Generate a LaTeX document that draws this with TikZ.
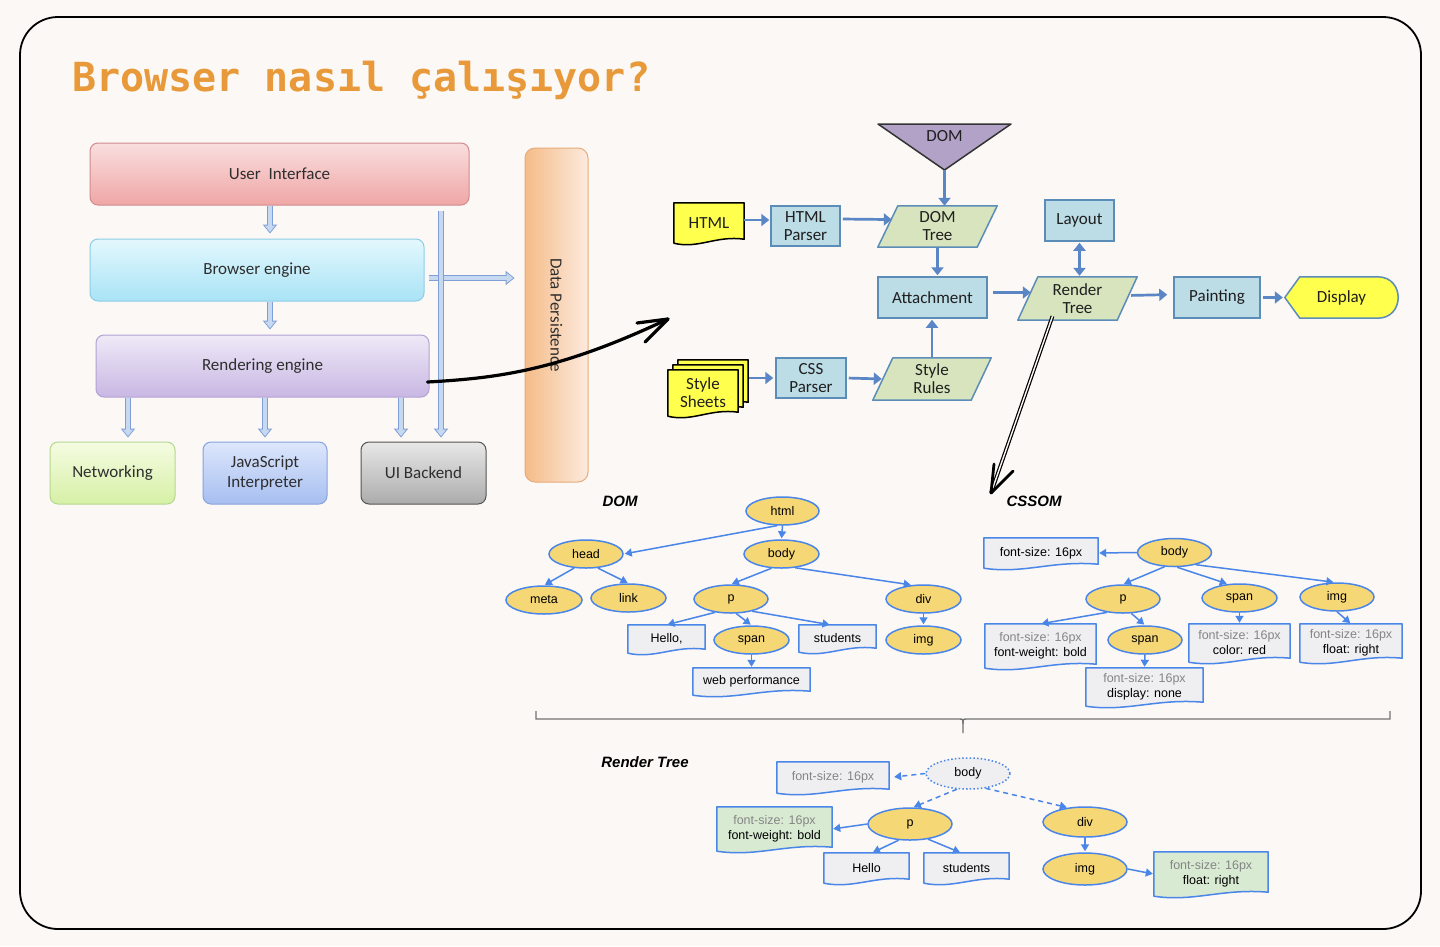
\documentclass[tikz,border=0pt]{standalone}
\usepackage{fontspec}
\setmainfont{Liberation Sans}
\newfontfamily\calfont{Carlito}
\newfontfamily\titlefont{DejaVu Sans Mono}
\usetikzlibrary{arrows.meta,calc,shapes.geometric}
\pgfdeclarelayer{canvas}
\pgfdeclarelayer{shapes}
\pgfsetlayers{canvas,shapes,main}

\definecolor{bgc}{HTML}{FBF8F5}
\definecolor{titlec}{HTML}{E8993A}
\definecolor{arrfill}{HTML}{C6D9F1}
\definecolor{arrdraw}{HTML}{7F9FD6}
\definecolor{flowblue}{HTML}{BCDCE6}
\definecolor{flowedge}{HTML}{5B8DB8}
\definecolor{flowgreen}{HTML}{D7E4BD}
\definecolor{flowarrow}{HTML}{5B86C5}
\definecolor{docyellow}{HTML}{FFFF4D}
\definecolor{domviolet}{HTML}{B3A2C7}
\definecolor{gblue}{HTML}{4A86E8}
\definecolor{gyellow}{HTML}{F6D775}
\definecolor{ggray}{HTML}{EFEFF1}
\definecolor{ggreen}{HTML}{D9EAD3}
\definecolor{gtext}{HTML}{858585}
\definecolor{uitop}{HTML}{F9DEDE}
\definecolor{uibot}{HTML}{F0A6A6}
\definecolor{uiedge}{HTML}{D08C8C}
\definecolor{betop}{HTML}{E3F8FD}
\definecolor{bebot}{HTML}{A9E3F6}
\definecolor{beedge}{HTML}{8CCDE6}
\definecolor{retop}{HTML}{EFE9F7}
\definecolor{rebot}{HTML}{C8B7E3}
\definecolor{reedge}{HTML}{B3A2D3}
\definecolor{nettop}{HTML}{F5FCE2}
\definecolor{netbot}{HTML}{D6F0A6}
\definecolor{netedge}{HTML}{B5D88F}
\definecolor{jstop}{HTML}{DDE7FC}
\definecolor{jsbot}{HTML}{A6BEF0}
\definecolor{jsedge}{HTML}{86A4DD}
\definecolor{uibtop}{HTML}{E8E8E8}
\definecolor{uibbot}{HTML}{ABABAB}
\definecolor{uibedge}{HTML}{555555}
\definecolor{dpleft}{HTML}{F5BC88}
\definecolor{dpright}{HTML}{FCEADE}
\definecolor{dpedge}{HTML}{E6AC7A}

\newcommand\docshape[3]{%
\begin{pgfonlayer}{shapes}
\path[fill=#1, draw=#2, line width=1.5pt, line join=round] (#3.north west) -- (#3.north east) -- ($(#3.south east)+(0,-4)$) .. controls ($(#3.south east)!0.4!(#3.south west)+(0,-8)$) and ($(#3.south east)!0.65!(#3.south west)+(0,6)$) .. (#3.south west) -- cycle;
\end{pgfonlayer}}
\newcommand\paragram[1]{%
\begin{pgfonlayer}{shapes}
\path[fill=flowgreen, draw=flowedge, line width=1.5pt, line join=round] ($(#1.south west)+(-10,0)$) -- ($(#1.north west)+(10,0)$) -- ($(#1.north east)+(10,0)$) -- ($(#1.south east)+(-10,0)$) -- cycle;
\end{pgfonlayer}}

\tikzset{
  lbox/.style={rounded corners=8pt, minimum height=62pt, inner sep=0pt, line width=1pt,
    font=\calfont\fontsize{17}{20}\selectfont, text=black!82, align=center},
  blk/.style={draw=arrdraw, line width=6.6pt, -{Triangle[length=9pt,width=14pt]},
    postaction={draw=arrfill, line width=4pt, -{Triangle[length=6.6pt,width=10pt]}, shorten >=1.4pt, shorten <=0.7pt}},
  fbox/.style={draw=flowedge, fill=flowblue, line width=1.5pt, inner sep=0pt, minimum height=41pt,
    font=\calfont\fontsize{17}{18}\selectfont, align=center, text=black!88},
  ftext/.style={inner sep=0pt, font=\calfont\fontsize{17}{18}\selectfont, align=center, text=black!88},
  farr/.style={draw=flowarrow, line width=2.7pt, -{Triangle[length=8pt,width=12pt]}},
  gnode/.style={ellipse, draw=gblue, fill=gyellow, line width=1.5pt, inner sep=0pt,
    minimum width=74pt, minimum height=28pt, font=\fontsize{12.5}{14}\selectfont},
  gdoc/.style={inner sep=0pt, font=\fontsize{12.5}{15}\selectfont, align=center},
  garr/.style={draw=gblue, line width=1.5pt, -{Triangle[length=7pt,width=8pt]}, shorten >=1pt},
  gdash/.style={garr, dash pattern=on 5pt off 4pt},
  glabel/.style={inner sep=0pt, font=\bfseries\itshape\fontsize{15}{18}\selectfont},
  hand/.style={draw=black, line width=3.2pt, line cap=round, line join=round},
}

\begin{document}
\begin{tikzpicture}[x=1pt,y=-1pt]
\useasboundingbox (0,0) rectangle (1440,946);
\begin{pgfonlayer}{canvas}
\fill[bgc] (0,0) rectangle (1440,946);
\draw[line width=1.8pt, rounded corners=38pt] (20,17) rectangle (1421,929);
\end{pgfonlayer}

% Title
\node[anchor=base west, inner sep=0pt, font=\titlefont\bfseries\fontsize{40}{48}\selectfont, text=titlec] (title) at (72,91) {Browser nasıl çalışıyor?};

% ---------- Left: browser architecture ----------
\node[lbox, top color=uitop, bottom color=uibot, draw=uiedge, minimum width=379pt] (ui) at (279.5,174) {User\ \ Interface};
\node[lbox, top color=betop, bottom color=bebot, draw=beedge, minimum width=334pt] (be) at (257,270) {Browser engine};
\node[lbox, top color=retop, bottom color=rebot, draw=reedge, minimum width=333pt] (re) at (262.5,366) {Rendering engine};
\node[lbox, top color=nettop, bottom color=netbot, draw=netedge, minimum width=125pt] (net) at (112.5,473) {Networking};
\node[lbox, top color=jstop, bottom color=jsbot, draw=jsedge, minimum width=124pt] (js) at (265,473) {JavaScript\\Interpreter};
\node[lbox, top color=uibtop, bottom color=uibbot, draw=uibedge, minimum width=125pt] (uib) at (423.5,473) {UI Backend};
\node[lbox, rounded corners=10pt, left color=dpleft, right color=dpright, draw=dpedge, minimum width=63pt, minimum height=334pt] (dp) at (556.5,315) {};
\node[inner sep=0pt, rotate=-90, font=\calfont\fontsize{17}{20}\selectfont, text=black!82] (dptext) at (dp.center) {Data Persistence};

\coordinate (c128) at (128,0);
\coordinate (c265) at (265,0);
\coordinate (c270) at (270,0);
\coordinate (c401) at (401,0);
\coordinate (c441) at (441,0);
\coordinate (c278) at (0,278);

\draw[blk] (ui.south -| c270) -- ($(be.north -| c270)+(0,-5)$);
\draw[blk] (be.south -| c270) -- ($(re.north -| c270)+(0,-5)$);
\draw[blk] (re.south -| c128) -- ($(net.north -| c128)+(0,-4)$);
\draw[blk] (re.south -| c265) -- ($(js.north -| c265)+(0,-4)$);
\draw[blk] (re.south -| c401) -- ($(uib.north -| c401)+(0,-4)$);
\draw[blk] ($(be.east |- c278)+(4,0)$) -- ($(dp.west |- c278)+(-10,0)$);
\draw[blk] ($(ui.south -| c441)+(0,5)$) -- ($(uib.north -| c441)+(0,-4)$);

% hand-drawn arrow to the flow
\coordinate (hstart) at ($(re.east)+(-2,16)$);
\coordinate (htip) at (668,319);
\coordinate (hb1) at (637,323);
\coordinate (hb2) at (645,342);
\draw[hand] (hstart) .. controls (500,378) and (560,370) .. (htip);
\draw[hand] (hb1) -- (htip) -- (hb2);

% ---------- Top right: rendering flow ----------
\coordinate (domtl) at (878,124);
\coordinate (domtr) at (1011,124);
\coordinate (domtip) at (944.5,170);
\begin{pgfonlayer}{shapes}
\path[fill=domviolet, draw=black!80, line width=1.5pt, line join=round] (domtl) -- (domtr) -- (domtip) -- cycle;
\end{pgfonlayer}
\node[ftext] (dom) at (944.5,136) {DOM};

\node[ftext, minimum width=70pt, minimum height=40pt] (htmldoc) at (709,223) {HTML};
\docshape{docyellow}{black}{htmldoc}
\node[fbox, minimum width=69pt, minimum height=40pt] (hp) at (805.5,226) {HTML\\Parser};
\node[ftext, minimum width=99pt, minimum height=41pt] (dt) at (937.5,226.5) {DOM\\Tree};
\paragram{dt}
\node[fbox, minimum width=69pt] (layout) at (1079.5,220.5) {Layout};
\node[fbox, minimum width=109pt] (att) at (932.5,297.5) {Attachment};
\node[ftext, minimum width=99pt, minimum height=43pt] (rt) at (1077.5,298.5) {Render\\Tree};
\paragram{rt}
\node[fbox, minimum width=86pt] (paint) at (1217,297.5) {Painting};
\node[ftext, minimum width=113pt, minimum height=41pt] (display) at (1341.5,297.5) {Display};
\begin{pgfonlayer}{shapes}
\path[fill=docyellow, draw=flowedge, line width=1.5pt, line join=round] (display.west) -- ($(display.north west)+(15,0)$) -- ($(display.north east)+(-20.5,0)$) .. controls ($(display.north east)+(6.8,0)$) and ($(display.south east)+(6.8,0)$) .. ($(display.south east)+(-20.5,0)$) -- ($(display.south west)+(15,0)$) -- cycle;
\end{pgfonlayer}

\node[ftext, minimum width=70pt, minimum height=46pt] (ss3) at (713,383) {};
\docshape{docyellow}{black}{ss3}
\node[ftext, minimum width=70pt, minimum height=46pt] (ss2) at (708,388) {};
\docshape{docyellow}{black}{ss2}
\node[ftext, minimum width=70pt, minimum height=46pt] (ss) at (703,393) {Style\\Sheets};
\docshape{docyellow}{black}{ss}
\node[fbox, minimum width=70pt, minimum height=40pt] (cssp) at (811,378) {CSS\\Parser};
\node[ftext, minimum width=98pt, minimum height=42pt] (sr) at (932,379) {Style\\Rules};
\paragram{sr}

\draw[farr, shorten >=1pt] ($(htmldoc.east)+(0,-3)$) -- ($(hp.west)+(0,-6)$);
\draw[farr, shorten <=2pt, shorten >=-4pt] ($(hp.east)+(0,-7)$) -- ($(dt.west)+(0,-7)$);
\draw[farr] (domtip) -- (domtip |- dt.north);
\draw[farr, shorten >=1pt] (dt.south) -- (att.north -| dt.south);
\draw[farr, shorten <=1pt, shorten >=2pt] (cssp.west -| ss3.east) -- (cssp.west);
\draw[farr, shorten <=2pt, shorten >=1pt] (cssp.east) -- (sr.west);
\draw[farr, shorten <=1pt, shorten >=1pt] (sr.north) -- (att.south -| sr.north);
\draw[farr, shorten <=5pt, shorten >=-3pt] ($(att.east)+(0,-5)$) -- ($(rt.west)+(0,-6)$);
\draw[draw=flowarrow, line width=2.7pt, {Triangle[length=8pt,width=12pt]}-{Triangle[length=8pt,width=12pt]}, shorten <=1pt, shorten >=1pt] (layout.south) -- (layout.south |- rt.north);
\draw[farr, shorten <=4pt, shorten >=6pt] ($(rt.east)+(0,-3)$) -- ($(paint.west)+(0,-3)$);
\draw[farr, shorten <=2pt, shorten >=2pt] (paint.east) -- (display.west);

% double-line hand arrow to CSSOM
\coordinate (dstart) at ($(rt.south)+(-25,-4)$);
\coordinate (dtip) at (991,493);
\coordinate (db1) at (994,464);
\coordinate (db2) at (1013,471);
\draw[line width=1.2pt, double=bgc, double distance=1.4pt] (dstart) -- (dtip);
\draw[hand, line width=2.8pt] (db1) -- (dtip) -- (db2);

% ---------- DOM tree ----------
\node[glabel] (domlbl) at (620,501) {DOM};
\node[gnode, minimum width=73pt] (html) at (782.5,511) {html};
\node[gnode] (head) at (586,554) {head};
\node[gnode, minimum width=75pt] (body) at (781.5,554) {body};
\node[gnode, minimum width=76pt] (meta) at (544,600) {meta};
\node[gnode, minimum width=75pt] (link) at (628.5,598) {link};
\node[gnode] (p) at (731,599) {p};
\node[gnode, minimum width=75pt] (div) at (923.5,599) {div};
\node[gnode, minimum width=75pt] (span) at (751.5,640) {span};
\node[gnode, minimum width=75pt] (img) at (923.5,640) {img};
\node[gdoc, minimum width=77pt, minimum height=28pt] (hello) at (666.5,639) {Hello,};
\docshape{ggray}{gblue}{hello}
\node[gdoc, minimum width=77pt, minimum height=27pt] (students) at (837.5,638.5) {students};
\docshape{ggray}{gblue}{students}
\node[gdoc, minimum width=117pt, minimum height=27pt] (webperf) at (751.5,681.5) {web performance};
\docshape{ggray}{gblue}{webperf}

\draw[garr] (html.250) -- (head.east);
\draw[garr] (html.south) -- (body.north);
\draw[garr] (head.230) -- (meta.north);
\draw[garr] (head.310) -- (link.north);
\draw[garr] (body.235) -- (p.north);
\draw[garr] (body.315) -- (div.130);
\draw[garr] (p.220) -- (hello.north);
\draw[garr] (p.290) -- (span.north);
\draw[garr] (p.330) -- ($(students.north)+(-7,0)$);
\draw[garr] (div.south) -- (img.north);
\draw[garr] (span.south) -- (webperf.north);

% ---------- CSSOM ----------
\node[glabel] (cssomlbl) at (1034,501) {CSSOM};
\node[gnode] (cbody) at (1174.5,552.5) {body};
\node[gdoc, minimum width=114pt, minimum height=30pt] (cfs) at (1041,553) {font-size: 16px};
\docshape{ggray}{gblue}{cfs}
\node[gnode] (cp) at (1123,599) {p};
\node[gnode, minimum width=75pt] (cspan) at (1239.5,598) {span};
\node[gnode] (cimg) at (1337,597) {img};
\node[gnode] (cspan2) at (1145,640) {span};
\node[gdoc, minimum width=111pt, minimum height=44pt] (cfw) at (1040.5,646) {\textcolor{gtext}{font-size: 16px}\\font-weight: bold};
\docshape{ggray}{gblue}{cfw}
\node[gdoc, minimum width=101pt, minimum height=38pt] (ccr) at (1239.5,643) {\textcolor{gtext}{font-size: 16px}\\color: red};
\docshape{ggray}{gblue}{ccr}
\node[gdoc, minimum width=102pt, minimum height=38pt] (cfr) at (1351,643) {\textcolor{gtext}{font-size: 16px}\\float: right};
\docshape{ggray}{gblue}{cfr}
\node[gdoc, minimum width=117pt, minimum height=38pt] (cdn) at (1144.5,687) {\textcolor{gtext}{font-size: 16px}\\display: none};
\docshape{ggray}{gblue}{cdn}

\draw[garr] (cbody.west) -- (cfs.east);
\draw[garr] (cbody.235) -- (cp.north);
\draw[garr] (cbody.280) -- (cspan.130);
\draw[garr] (cbody.330) -- (cimg.100);
\draw[garr] (cp.220) -- (cfw.north);
\draw[garr] (cp.300) -- (cspan2.north);
\draw[garr] (cspan.south) -- (ccr.north);
\draw[garr] (cimg.south) -- (cfr.north);
\draw[garr] (cspan2.south) -- (cdn.north);

% ---------- bracket ----------
\coordinate (brl) at (536,711);
\coordinate (brr) at (1390,711);
\coordinate (brm) at (963,733);
\draw[draw=black!55, line width=1.4pt] (brl) -- (536,719) -- (959,719) .. controls (963,719) .. (963,724) -- (brm);
\draw[draw=black!55, line width=1.4pt] (brr) -- (1390,719) -- (967,719) .. controls (963,719) .. (963,724);

% ---------- Render tree ----------
\node[glabel] (rtlbl) at (645,762) {Render Tree};
\node[gnode, fill=ggray, dash pattern=on 1.5pt off 2.2pt, minimum width=84pt, minimum height=31pt] (rbody) at (968,773.5) {body};
\node[gdoc, minimum width=112pt, minimum height=31pt] (rfs) at (833,777.5) {\textcolor{gtext}{font-size: 16px}};
\docshape{ggray}{gblue}{rfs}
\node[gnode, minimum width=84pt, minimum height=32pt] (rp) at (910,824) {p};
\node[gnode, minimum width=84pt, minimum height=30pt] (rdiv) at (1085,822) {div};
\node[gdoc, minimum width=115pt, minimum height=44pt] (rfw) at (774.5,829) {\textcolor{gtext}{font-size: 16px}\\font-weight: bold};
\docshape{ggreen}{gblue}{rfw}
\node[gdoc, minimum width=85pt, minimum height=30pt] (rhello) at (866.5,868) {Hello};
\docshape{ggray}{gblue}{rhello}
\node[gdoc, minimum width=85pt, minimum height=30pt] (rstud) at (966.5,868) {students};
\docshape{ggray}{gblue}{rstud}
\node[gnode, minimum width=84pt, minimum height=32pt] (rimg) at (1085,869) {img};
\node[gdoc, minimum width=114pt, minimum height=44pt] (rfr) at (1211,874) {\textcolor{gtext}{font-size: 16px}\\float: right};
\docshape{ggreen}{gblue}{rfr}

\draw[gdash, shorten >=5pt] (rbody.west) -- (rfs.east);
\draw[gdash] (rbody.235) -- (rp.80);
\draw[gdash] (rbody.320) -- (rdiv.140);
\draw[garr] (rp.west) -- (rfw.east);
\draw[garr] (rp.235) -- (rhello.70);
\draw[garr] (rp.320) -- (rstud.110);
\draw[garr] (rdiv.south) -- (rimg.north);
\draw[garr] (rimg.east) -- (rfr.west);
\end{tikzpicture}
\end{document}
